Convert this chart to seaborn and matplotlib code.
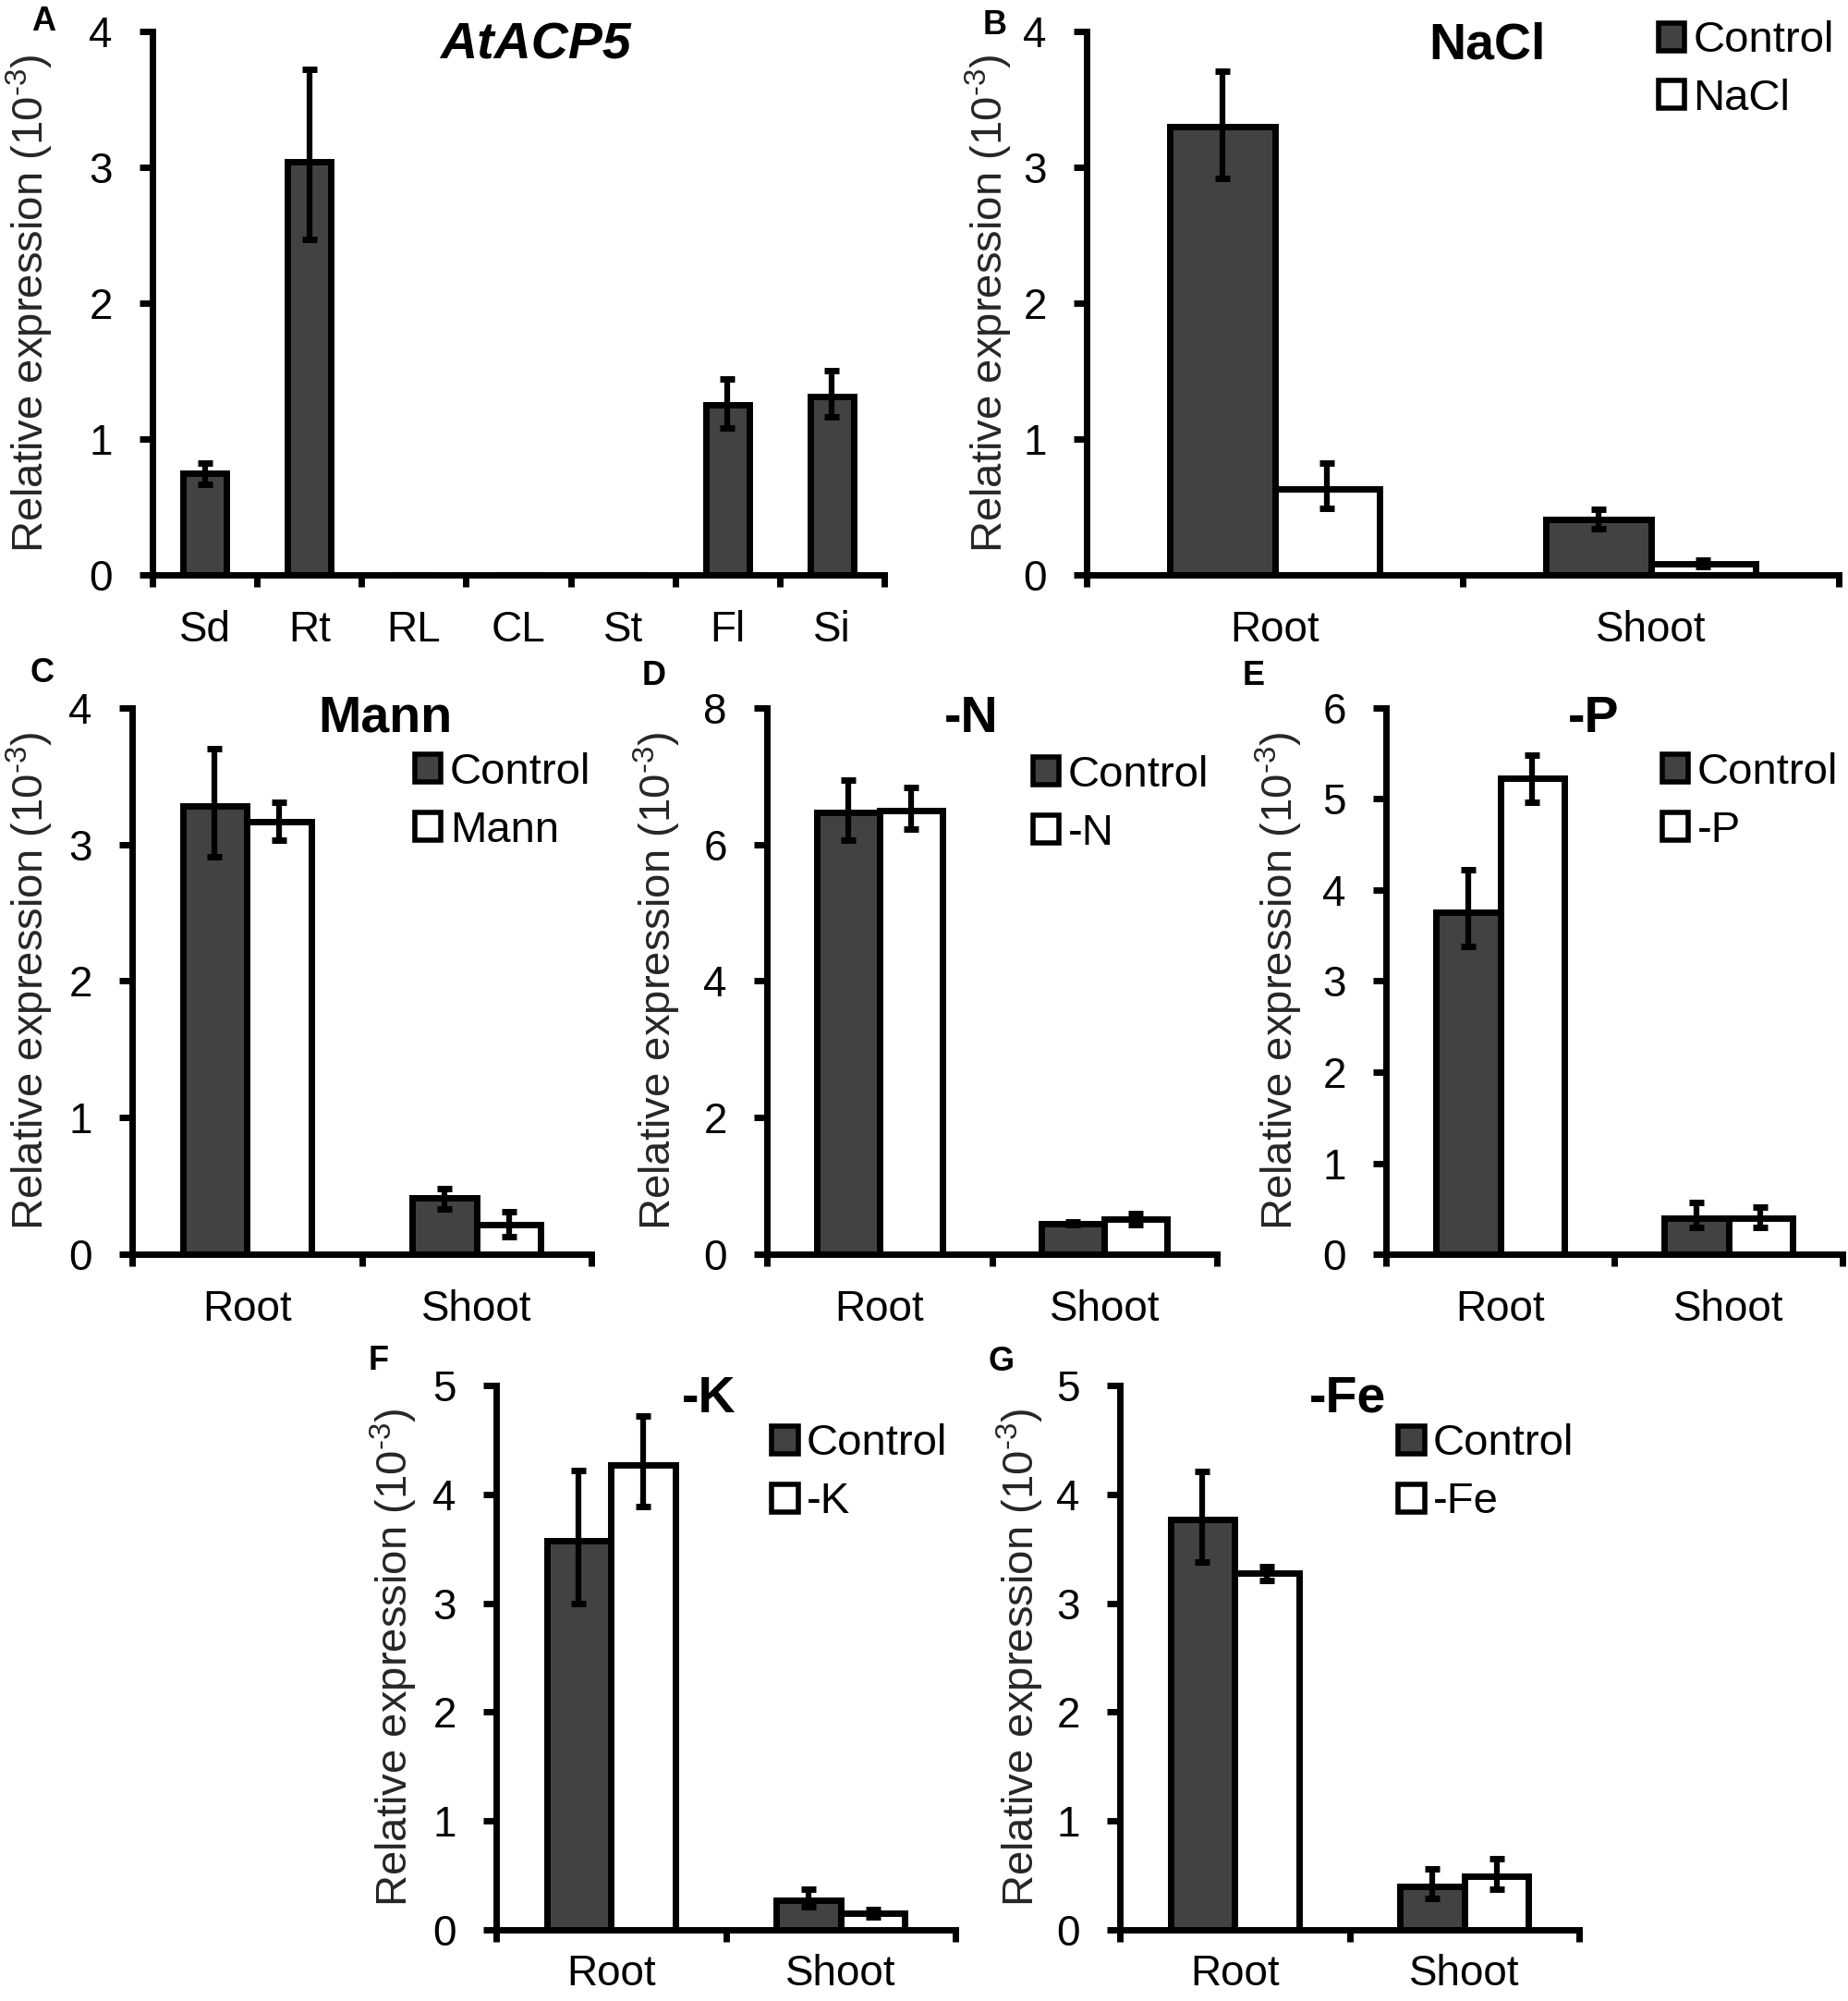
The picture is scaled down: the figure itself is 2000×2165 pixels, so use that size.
import numpy as np
import pandas as pd
import matplotlib
matplotlib.use("Agg")
import matplotlib.pyplot as plt
from matplotlib.patches import Patch
from matplotlib.transforms import blended_transform_factory
import seaborn as sns

# ---------------- data ----------------
tissues = ["Sd", "Rt", "RL", "CL", "St", "Fl", "Si"]
tissue_expr = [0.75, 3.04, 0.0, 0.0, 0.0, 1.25, 1.31]
tissue_lo = [0.67, 2.47, 0.0, 0.0, 0.0, 1.08, 1.16]
tissue_hi = [0.82, 3.72, 0.0, 0.0, 0.0, 1.44, 1.50]

organs = ["Root", "Shoot"]

nacl_ctrl = [3.30, 0.41]
nacl_ctrl_lo = [2.92, 0.34]
nacl_ctrl_hi = [3.71, 0.48]
nacl_trt = [0.63, 0.08]
nacl_trt_lo = [0.49, 0.06]
nacl_trt_hi = [0.82, 0.11]

mann_ctrl = [3.28, 0.41]
mann_ctrl_lo = [2.91, 0.33]
mann_ctrl_hi = [3.70, 0.48]
mann_trt = [3.17, 0.22]
mann_trt_lo = [3.03, 0.13]
mann_trt_hi = [3.31, 0.31]

n_ctrl = [6.47, 0.45]
n_ctrl_lo = [6.06, 0.43]
n_ctrl_hi = [6.94, 0.47]
n_trt = [6.50, 0.51]
n_trt_lo = [6.22, 0.44]
n_trt_hi = [6.84, 0.60]

p_ctrl = [3.76, 0.40]
p_ctrl_lo = [3.38, 0.29]
p_ctrl_hi = [4.22, 0.57]
p_trt = [5.23, 0.40]
p_trt_lo = [4.96, 0.29]
p_trt_hi = [5.48, 0.52]

k_ctrl = [3.57, 0.27]
k_ctrl_lo = [3.00, 0.21]
k_ctrl_hi = [4.22, 0.37]
k_trt = [4.27, 0.15]
k_trt_lo = [3.89, 0.12]
k_trt_hi = [4.72, 0.19]

fe_ctrl = [3.77, 0.40]
fe_ctrl_lo = [3.38, 0.29]
fe_ctrl_hi = [4.21, 0.56]
fe_trt = [3.28, 0.49]
fe_trt_lo = [3.21, 0.37]
fe_trt_hi = [3.34, 0.65]

# ---------------- style ----------------
sns.set_theme(style="white")
plt.rcParams["font.family"] = ["Liberation Sans", "DejaVu Sans"]
plt.rcParams["mathtext.fontset"] = "custom"
plt.rcParams["mathtext.rm"] = "Liberation Sans"
plt.rcParams["mathtext.it"] = "Liberation Sans:italic"
plt.rcParams["mathtext.bf"] = "Liberation Sans:bold"
plt.rcParams["text.color"] = "black"
plt.rcParams["xtick.color"] = "black"
plt.rcParams["ytick.color"] = "black"
plt.rcParams["axes.edgecolor"] = "black"

DARK = "#424242"
EDGE_LW = 5
YLABEL = r"Relative expression (10$^{\text{-3}}$)"
TICK_FS = 33
LABEL_FS = 34
TITLE_FS = 40
LEG_FS = 34

FIG_W = 2000
fig = plt.figure(figsize=(20, 21.65), dpi=100)


def style_axes(ax, labels, ymax, step, ylabel_px, xpad=27):
    n = len(labels)
    ax.set_xlim(-0.5, n - 0.5)
    ax.set_ylim(0, ymax)
    ticks = np.arange(0, ymax + step / 2, step)
    ax.set_yticks(ticks)
    ax.set_yticklabels([f"{v:g}" for v in ticks])
    ax.set_xticks(np.arange(-0.5, n, 1.0))
    ax.set_xticklabels([])
    ax.set_xticks(np.arange(n), minor=True)
    ax.set_xticklabels(labels, minor=True)
    ax.tick_params(axis="x", which="major", direction="out", length=9.5,
                   width=EDGE_LW, bottom=True, color="black")
    ax.tick_params(axis="x", which="minor", length=0, pad=xpad,
                   labelsize=TICK_FS, bottom=True)
    ax.tick_params(axis="y", which="major", direction="out", length=10,
                   width=EDGE_LW, pad=21, labelsize=TICK_FS, left=True,
                   color="black")
    for s in ["top", "right"]:
        ax.spines[s].set_visible(False)
    for s in ["left", "bottom"]:
        ax.spines[s].set_linewidth(EDGE_LW)
        ax.spines[s].set_color("black")
    ax.set_xlabel("")
    ax.set_ylabel(YLABEL, fontsize=LABEL_FS)
    trans = blended_transform_factory(fig.transFigure, ax.transAxes)
    ax.yaxis.set_label_coords(ylabel_px / FIG_W, 0.5, transform=trans)
    ax.patch.set_alpha(0)


def draw_err(ax, container, vals, lo, hi):
    for p, v, l, h in zip(container.patches, vals, lo, hi):
        if h - l <= 0:
            continue
        x = p.get_x() + p.get_width() / 2
        ax.errorbar([x], [v], yerr=[[v - l], [h - v]], fmt="none",
                    ecolor="black", elinewidth=4.5, capsize=6, capthick=5,
                    zorder=5)


# ---------------- panel A ----------------
axA = fig.add_axes([0.0825, 0.7127, 0.396, 0.2716])
dfA = pd.DataFrame({"tissue": tissues, "value": tissue_expr})
sns.barplot(data=dfA, x="tissue", y="value", order=tissues, color=DARK,
            saturation=1, width=0.42, edgecolor="black", linewidth=EDGE_LW,
            errorbar=None, ax=axA)
draw_err(axA, axA.containers[0], tissue_expr, tissue_lo, tissue_hi)
style_axes(axA, tissues, 4, 1, 60)
axA.text(0.524, 0.974, "AtACP5", transform=axA.transAxes, ha="center",
         va="center", fontsize=TITLE_FS, fontweight="bold", style="italic")


def pair_panel(rect, treat, ctrl, ctrl_lo, ctrl_hi, trt, trt_lo, trt_hi,
               ymax, step, title_xy, leg_xy, ylabel_px, xpad=27):
    ax = fig.add_axes(rect)
    df = pd.DataFrame({
        "organ": organs + organs,
        "cond": ["Control"] * len(organs) + [treat] * len(organs),
        "value": list(ctrl) + list(trt),
    })
    sns.barplot(data=df, x="organ", y="value", hue="cond", order=organs,
                hue_order=["Control", treat],
                palette={"Control": DARK, treat: "white"}, saturation=1,
                width=0.56, edgecolor="black", linewidth=EDGE_LW,
                errorbar=None, legend=False, ax=ax)
    draw_err(ax, ax.containers[0], ctrl, ctrl_lo, ctrl_hi)
    draw_err(ax, ax.containers[1], trt, trt_lo, trt_hi)
    style_axes(ax, organs, ymax, step, ylabel_px, xpad)
    ax.text(title_xy[0], title_xy[1], treat, transform=ax.transAxes,
            ha="center", va="center", fontsize=TITLE_FS, fontweight="bold")
    handles = [Patch(facecolor=DARK, edgecolor="black", linewidth=4),
               Patch(facecolor="white", edgecolor="black", linewidth=4)]
    ax.legend(handles, ["Control", treat], loc="upper left",
              bbox_to_anchor=leg_xy, frameon=False, fontsize=LEG_FS,
              handlelength=0.6, handleheight=0.6, handletextpad=0.2,
              labelspacing=0.4, borderpad=0, borderaxespad=0)
    return ax


pair_panel([0.588, 0.7127, 0.407, 0.2716], "NaCl",
           nacl_ctrl, nacl_ctrl_lo, nacl_ctrl_hi,
           nacl_trt, nacl_trt_lo, nacl_trt_hi, 4, 1,
           (0.532, 0.974), (0.760, 1.02), 1098)
pair_panel([0.0715, 0.3732, 0.2485, 0.273], "Mann",
           mann_ctrl, mann_ctrl_lo, mann_ctrl_hi,
           mann_trt, mann_trt_lo, mann_trt_hi, 4, 1,
           (0.551, 0.980), (0.616, 0.919), 60)
pair_panel([0.415, 0.3732, 0.2435, 0.273], "-N",
           n_ctrl, n_ctrl_lo, n_ctrl_hi,
           n_trt, n_trt_lo, n_trt_hi, 8, 2,
           (0.454, 0.980), (0.591, 0.914), 739)
pair_panel([0.75, 0.3732, 0.247, 0.273], "-P",
           p_ctrl, p_ctrl_lo, p_ctrl_hi,
           p_trt, p_trt_lo, p_trt_hi, 6, 1,
           (0.455, 0.980), (0.605, 0.919), 1412)
pair_panel([0.2685, 0.0356, 0.2485, 0.272], "-K",
           k_ctrl, k_ctrl_lo, k_ctrl_hi,
           k_trt, k_trt_lo, k_trt_hi, 5, 1,
           (0.463, 0.975), (0.600, 0.930), 454, xpad=19)
pair_panel([0.606, 0.0356, 0.2485, 0.272], "-Fe",
           fe_ctrl, fe_ctrl_lo, fe_ctrl_hi,
           fe_trt, fe_trt_lo, fe_trt_hi, 5, 1,
           (0.495, 0.975), (0.606, 0.930), 1132, xpad=19)

# panel letters
for letter, (x, y) in zip("ABCDEFG", [(0.0235, 0.989), (0.5385, 0.9875),
                                      (0.0225, 0.6637), (0.354, 0.6623),
                                      (0.6785, 0.6623), (0.205, 0.320),
                                      (0.542, 0.3196)]):
    fig.text(x, y, letter, ha="center", va="center", fontsize=26,
             fontweight="bold")

fig.savefig("out.png", dpi=100, facecolor="white")
